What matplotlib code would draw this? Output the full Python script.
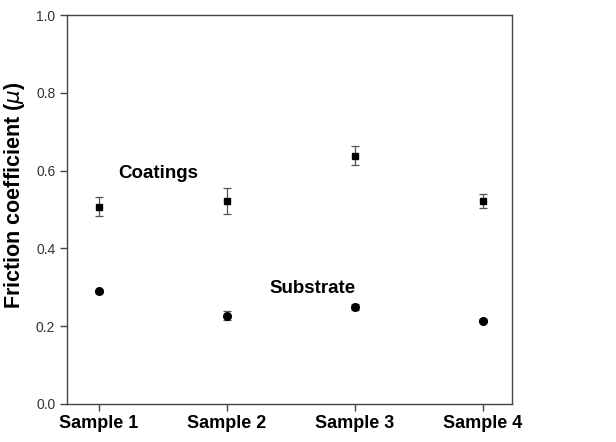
import matplotlib
matplotlib.use('Agg')
import matplotlib.pyplot as plt

plt.rcParams['font.family'] = ['Liberation Sans', 'DejaVu Sans']

samples = ['Sample 1', 'Sample 2', 'Sample 3', 'Sample 4']
coatings = [0.507, 0.522, 0.638, 0.522]
coatings_err = [0.024, 0.033, 0.024, 0.018]
substrate = [0.290, 0.227, 0.249, 0.214]
substrate_err = [0.004, 0.012, 0.008, 0.004]

fig = plt.figure(figsize=(6.16, 4.42), dpi=100)
ax = fig.add_axes([0.109, 0.086, 0.722, 0.880])

x = list(range(1, len(samples) + 1))

ax.errorbar(x, coatings, yerr=coatings_err, fmt='s', color='black', ms=5,
            ecolor='#555555', elinewidth=0.9, capsize=3, capthick=0.9)
ax.errorbar(x, substrate, yerr=substrate_err, fmt='o', color='black', ms=5.5,
            ecolor='#555555', elinewidth=0.9, capsize=3, capthick=0.9)

ax.text(1.15, 0.593, 'Coatings', fontsize=13.5, fontweight='bold', va='center')
ax.text(2.33, 0.296, 'Substrate', fontsize=13.5, fontweight='bold', va='center')

ax.set_xlim(0.753, 4.225)
ax.set_ylim(0.0, 1.0)
ax.set_xticks(x)
ax.set_xticklabels(samples, fontsize=13, fontweight='bold')
ax.set_yticks([0.0, 0.2, 0.4, 0.6, 0.8, 1.0])
ax.set_yticklabels(['0.0', '0.2', '0.4', '0.6', '0.8', '1.0'], fontsize=10, color='#333333')
ax.set_ylabel(r'Friction coefficient ($\mu$)', fontsize=15.5, fontweight='bold')
ax.yaxis.set_label_coords(-0.09, 0.535)

for s in ax.spines.values():
    s.set_color('#444444')
    s.set_linewidth(1.0)
ax.tick_params(direction='out', length=5, width=1.0, color='#444444')
ax.tick_params(axis='x', pad=3)

fig.savefig('out.png', dpi=100, facecolor='white')
